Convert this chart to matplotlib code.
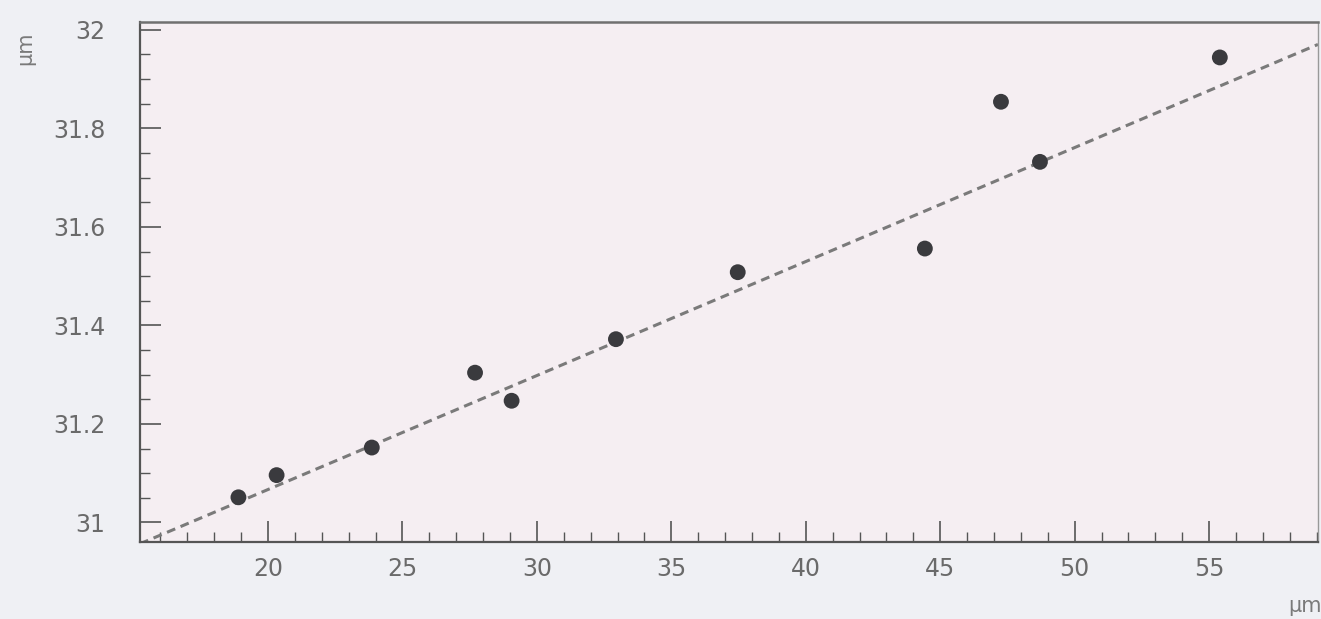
import numpy as np
import matplotlib
matplotlib.use("Agg")
import matplotlib.pyplot as plt
from matplotlib.ticker import MultipleLocator

# Data
x_vals = [18.90, 20.32, 23.86, 27.70, 29.06, 32.94, 37.47, 44.43, 47.26, 48.71, 55.40]
y_vals = [31.051, 31.096, 31.152, 31.304, 31.247, 31.372, 31.508, 31.556, 31.854, 31.732, 31.944]
fit_slope = 0.02314
fit_intercept = 30.604
x_ticks = [20, 25, 30, 35, 40, 45, 50, 55]
y_ticks = [31, 31.2, 31.4, 31.6, 31.8, 32]
y_tick_labels = ["31", "31.2", "31.4", "31.6", "31.8", "32"]
unit_label = "μm"

fig = plt.figure(figsize=(13.21, 6.19), dpi=100, facecolor="#eff0f4")
ax = fig.add_axes([0.106, 0.125, 0.8917, 0.8395])
ax.set_facecolor("#f5eef2")

xmin, xmax = 15.24, 59.05
ymin, ymax = 30.961, 32.016

xl = np.array([xmin, xmax])
ax.plot(xl, fit_intercept + fit_slope * xl, color="#7a7a7a", lw=2.2,
        dashes=(2.9, 1.9), zorder=2)
ax.scatter(x_vals, y_vals, s=130, color="#3a3a3e", zorder=3, edgecolors="none")

ax.set_xlim(xmin, xmax)
ax.set_ylim(ymin, ymax)
ax.set_xticks(x_ticks)
ax.set_xticklabels([str(t) for t in x_ticks])
ax.set_yticks(y_ticks)
ax.set_yticklabels(y_tick_labels)
ax.xaxis.set_minor_locator(MultipleLocator(1))
ax.yaxis.set_minor_locator(MultipleLocator(0.05))

ax.tick_params(axis="both", which="major", direction="in", length=15, width=1.2,
               color="#555555", labelcolor="#6a6a6a", labelsize=17)
ax.tick_params(axis="both", which="minor", direction="in", length=7, width=1.0,
               color="#555555")
ax.tick_params(axis="x", which="major", pad=11)
ax.tick_params(axis="y", which="major", pad=25)
ax.tick_params(top=False, right=False, which="both")

for side in ["left", "bottom"]:
    ax.spines[side].set_color("#555555")
    ax.spines[side].set_linewidth(1.6)
ax.spines["top"].set_color("#707070")
ax.spines["top"].set_linewidth(1.8)
ax.spines["right"].set_color("#999999")
ax.spines["right"].set_linewidth(1.0)

fig.text(25 / 1321, 1 - 48 / 619, unit_label, rotation=90, ha="center", va="center",
         fontsize=15, color="#7a7a7a")
fig.text(1305 / 1321, 1 - 606 / 619, unit_label, ha="center", va="center",
         fontsize=15, color="#7a7a7a")

fig.savefig("out.png", dpi=100, facecolor=fig.get_facecolor())
